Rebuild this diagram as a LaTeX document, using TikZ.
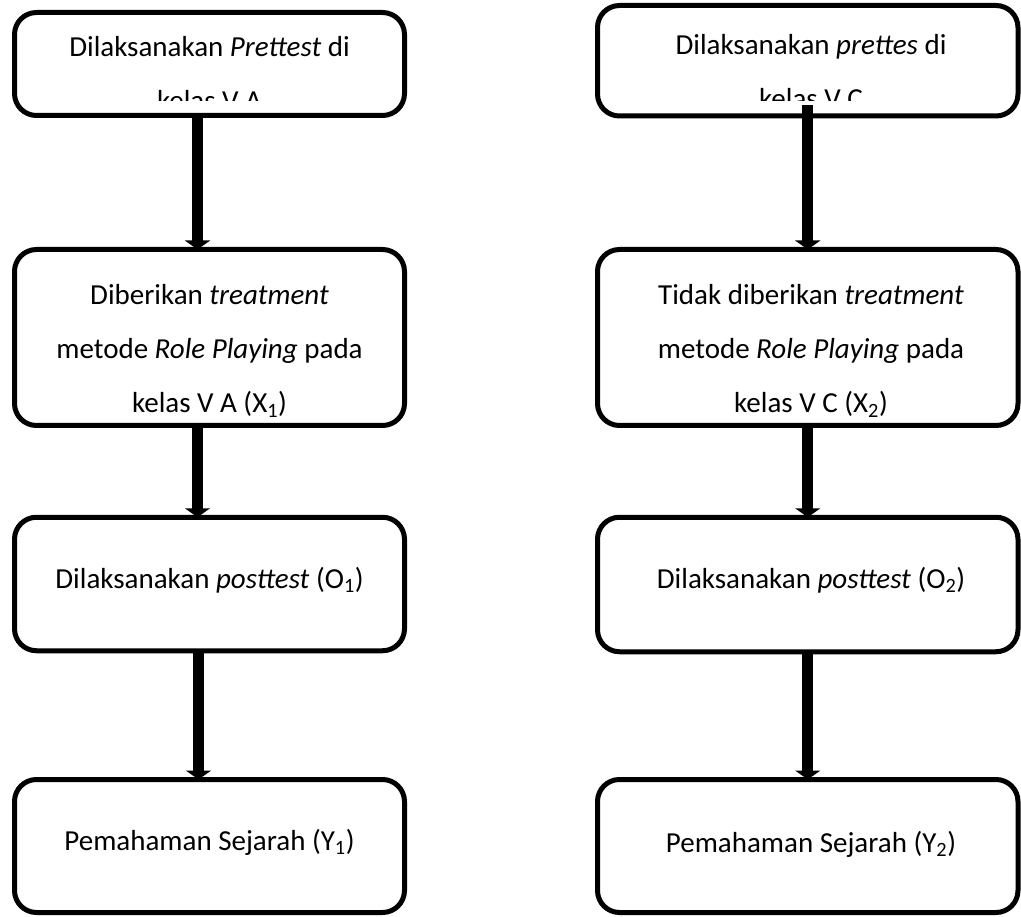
\documentclass[tikz,border=0pt]{standalone}
\usepackage{fontspec}
\setmainfont{Carlito}
\usetikzlibrary{arrows.meta}

\begin{document}
\begin{tikzpicture}[x=1pt,y=-1pt,
   kotak/.style={draw,line width=5pt,rounded corners=22pt,outer sep=0pt,inner sep=0pt},
   tulisan/.style={align=center,anchor=base,inner sep=0pt,font=\fontsize{29}{54}\selectfont},
   panah/.style={line width=11pt,-{Triangle[width=25pt,length=9pt]}}]
   \useasboundingbox (0,0) rectangle (1021,917);
   % kolom kiri (kelas V A)
   \path (209.5,64) node[kotak,minimum width=390pt,minimum height=103pt] (A1) {};
   \begin{scope}
     \clip (17,15) rectangle (402,101);
     \path (209.5,111) node[tulisan] (A1t) {Dilaksanakan \textit{Prettest} di\\kelas V A};
   \end{scope}
   \path (209.5,337.5) node[kotak,minimum width=390pt,minimum height=176pt] (A2) {};
   \path (209.5,413) node[tulisan] (A2t)
   {Diberikan \textit{treatment}\\metode \textit{Role Playing} pada\\kelas V A (X\textsubscript{1})};
   \path (209.5,584) node[kotak,minimum width=390pt,minimum height=133.5pt] (A3) {};
   \path (209.5,588) node[tulisan] (A3t) {Dilaksanakan \textit{posttest} (O\textsubscript{1})};
   \path (209.5,846) node[kotak,minimum width=390pt,minimum height=133pt] (A4) {};
   \path (209.5,850) node[tulisan] (A4t) {Pemahaman Sejarah (Y\textsubscript{1})};
   % kolom kanan (kelas V C)
   \path (807.75,60.75) node[kotak,minimum width=420.5pt,minimum height=110.5pt] (B1) {};
   \begin{scope}
     \clip (601,9) rectangle (1014,101);
     \path (811,109) node[tulisan] (B1t) {Dilaksanakan \textit{prettes} di\\kelas V C};
   \end{scope}
   \path (807.75,337.5) node[kotak,minimum width=420.5pt,minimum height=176pt] (B2) {};
   \path (811,413) node[tulisan] (B2t)
   {Tidak diberikan \textit{treatment}\\metode \textit{Role Playing} pada\\kelas V C (X\textsubscript{2})};
   \path (807.75,584.5) node[kotak,minimum width=420.5pt,minimum height=134.5pt] (B3) {};
   \path (811,588) node[tulisan] (B3t) {Dilaksanakan \textit{posttest} (O\textsubscript{2})};
   \path (807.75,846) node[kotak,minimum width=420.5pt,minimum height=133pt] (B4) {};
   \path (811,852) node[tulisan] (B4t) {Pemahaman Sejarah (Y\textsubscript{2})};
   % panah
   \draw[panah] ([xshift=-12pt]A1.south) -- ([xshift=-12pt]A2.north);
   \draw[panah] ([xshift=-12pt]A2.south) -- ([xshift=-12pt]A3.north);
   \draw[panah] ([xshift=-11pt]A3.south) -- ([xshift=-11pt]A4.north);
   \draw[panah] ([yshift=11pt]B1.south) -- (B2.north);
   \draw[panah] (B2.south) -- (B3.north);
   \draw[panah] (B3.south) -- (B4.north);
\end{tikzpicture}
\end{document}
